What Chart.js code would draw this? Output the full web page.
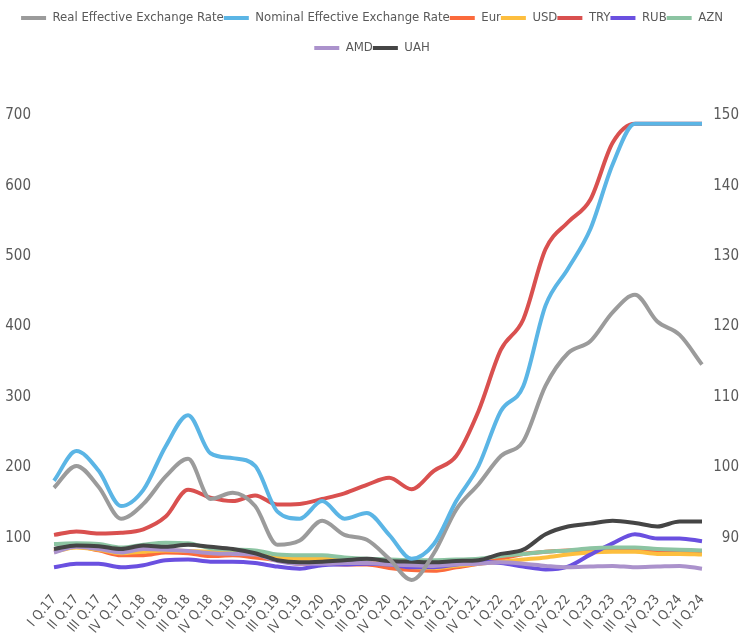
<!DOCTYPE html>
<html>
<head>
<meta charset="utf-8">
<script src="https://cdn.jsdelivr.net/npm/chart.js@4"></script>
<style>
  html, body { margin: 0; padding: 0; background: #fff; }
</style>
</head>
<body>
<canvas id="chart" width="740" height="639"></canvas>
<script>
// Quarters on the x axis
const quarters = [
  'I Q.17', 'II Q.17', 'III Q.17', 'IV Q.17',
  'I Q.18', 'II Q.18', 'III Q.18', 'IV Q.18',
  'I Q.19', 'II Q.19', 'III Q.19', 'IV Q.19',
  'I Q.20', 'II Q.20', 'III Q.20', 'IV Q.20',
  'I Q.21', 'II Q.21', 'III Q.21', 'IV Q.21',
  'I Q.22', 'II Q.22', 'III Q.22', 'IV Q.22',
  'I Q.23', 'II Q.23', 'III Q.23', 'IV Q.23',
  'I Q.24', 'II Q.24'
];

// Right axis (index)
const reer = [97.1, 100.2, 97.2, 92.7, 94.8, 98.7, 101.2, 95.5, 96.4, 94.5, 89.0, 89.6, 92.4, 90.4, 89.7,
  87.0, 84.0, 87.8, 94.0, 97.6, 101.6, 103.7, 111.6, 116.2, 117.9, 122.0, 124.5, 120.7, 118.8, 114.6];
const neer = [98.1, 102.3, 99.5, 94.5, 96.8, 103.0, 107.4, 102.0, 101.3, 100.2, 93.7, 92.7, 95.2, 92.7, 93.5,
  90.4, 87.0, 89.1, 95.2, 100.2, 108.0, 111.5, 123.0, 128.2, 133.8, 143.0, 148.8, 148.8, 148.8, 148.8];

// Left axis (currencies)
const eur = [82, 87, 82, 75, 75, 79, 78, 74, 75, 72, 68, 63, 63, 62, 62, 57, 54, 53, 58, 63, 70, 77, 80, 82, 83, 83, 83, 80, 79, 79];
const usd = [80, 86, 83, 78, 80, 82, 81, 80, 79, 78, 72, 70, 70, 70, 68, 63, 58, 57, 60, 63, 66, 69, 72, 76, 79, 80, 80, 77, 77, 76];
const tryRate = [104, 109, 106, 107, 112, 130, 168, 157, 152, 160, 147, 148, 155, 163, 175, 185, 169, 195, 216, 280, 367, 410, 510, 548, 580, 661, 688, 688, 688, 688];
const rub = [58, 63, 63, 58, 61, 68, 69, 66, 66, 64, 59, 56, 61, 62, 63, 62, 58, 58, 62, 66, 64, 59, 55, 59, 76, 92, 105, 99, 99, 95];
const azn = [91, 92, 91, 86, 90, 93, 92, 85, 83, 82, 76, 75, 75, 72, 70, 69, 68, 68, 69, 70, 74, 77, 80, 82, 85, 86, 86, 84, 83, 82];
const amd = [79, 87, 84, 79, 84, 83, 81, 78, 77, 76, 67, 63, 63, 64, 64, 62, 61, 60, 62, 63, 65, 63, 60, 58, 59, 60, 58, 59, 60, 56];
const uah = [84, 89, 88, 84, 89, 87, 90, 87, 84, 78, 68, 65, 66, 68, 70, 67, 66, 65, 67, 68, 77, 83, 105, 116, 120, 124, 121, 116, 123, 123];

const leftTicks = [100, 200, 300, 400, 500, 600, 700];
const rightTicks = [90, 100, 110, 120, 130, 140, 150];

const FONT = "'DejaVu Sans Condensed', 'DejaVu Sans', sans-serif";
const TEXT = '#595959';

function series(label, data, color, axis, order) {
  return {
    label: label,
    data: data,
    borderColor: color,
    backgroundColor: color,
    borderWidth: 4,
    pointRadius: 0,
    cubicInterpolationMode: 'monotone',
    yAxisID: axis,
    order: order
  };
}

// Draws the line markers in the legend (boxes are left transparent)
const legendLines = {
  id: 'legendLines',
  afterDraw(chart) {
    const lg = chart.legend;
    const ctx = chart.ctx;
    lg.legendItems.forEach((item, i) => {
      const box = lg.legendHitBoxes[i];
      const ds = chart.data.datasets[item.datasetIndex];
      const y = box.top + box.height / 2;
      ctx.save();
      ctx.strokeStyle = ds.borderColor;
      ctx.lineWidth = 4;
      ctx.beginPath();
      ctx.moveTo(box.left, y);
      ctx.lineTo(box.left + 25, y);
      ctx.stroke();
      ctx.restore();
    });
  }
};

new Chart(document.getElementById('chart'), {
  type: 'line',
  data: {
    labels: quarters,
    datasets: [
      series('Real Effective Exchange Rate', reer, '#9b9b9b', 'y1', 1),
      series('Nominal Effective Exchange Rate', neer, '#5bb5e5', 'y1', 0),
      series('Eur', eur, '#fb6a3c', 'y', 8),
      series('USD', usd, '#fdbe3e', 'y', 7),
      series('TRY', tryRate, '#d9504f', 'y', 6),
      series('RUB', rub, '#6a50e0', 'y', 5),
      series('AZN', azn, '#8cc4a2', 'y', 4),
      series('AMD', amd, '#ab92cc', 'y', 3),
      series('UAH', uah, '#454545', 'y', 2)
    ]
  },
  options: {
    responsive: false,
    animation: false,
    layout: { padding: { top: 3, left: 5, right: 1, bottom: 0 } },
    plugins: {
      tooltip: { enabled: false },
      legend: {
        position: 'top',
        labels: {
          color: TEXT,
          font: { family: FONT, size: 13 },
          boxWidth: 25,
          boxHeight: 30,
          padding: 0,
          sort: (a, b) => a.datasetIndex - b.datasetIndex,
          generateLabels: function(chart) {
            const items = Chart.defaults.plugins.legend.labels.generateLabels(chart);
            items.forEach(item => {
              item.fillStyle = 'rgba(0,0,0,0)';
              item.strokeStyle = 'rgba(0,0,0,0)';
              item.lineWidth = 0;
            });
            return items;
          }
        }
      }
    },
    scales: {
      x: {
        grid: { display: false, drawTicks: false },
        border: { display: false },
        ticks: {
          color: TEXT,
          font: { family: FONT, size: 13.5 },
          autoSkip: false,
          minRotation: 50,
          maxRotation: 50,
          padding: 5
        },
        afterFit: (scale) => { scale.height = 52; }
      },
      y: {
        position: 'left',
        min: 30,
        max: 760,
        grid: { display: false, drawTicks: false },
        border: { display: false },
        ticks: {
          color: TEXT,
          font: { family: FONT, size: 15 },
          padding: 23
        },
        afterBuildTicks: (axis) => { axis.ticks = leftTicks.map(v => ({ value: v })); },
        afterFit: (scale) => { scale.width = 49; }
      },
      y1: {
        position: 'right',
        min: 83,
        max: 156,
        grid: { display: false, drawTicks: false },
        border: { display: false },
        ticks: {
          color: TEXT,
          font: { family: FONT, size: 15 },
          crossAlign: 'far',
          padding: 11
        },
        afterBuildTicks: (axis) => { axis.ticks = rightTicks.map(v => ({ value: v })); },
        afterFit: (scale) => { scale.width = 37; }
      }
    }
  },
  plugins: [legendLines]
});
</script>
</body>
</html>
